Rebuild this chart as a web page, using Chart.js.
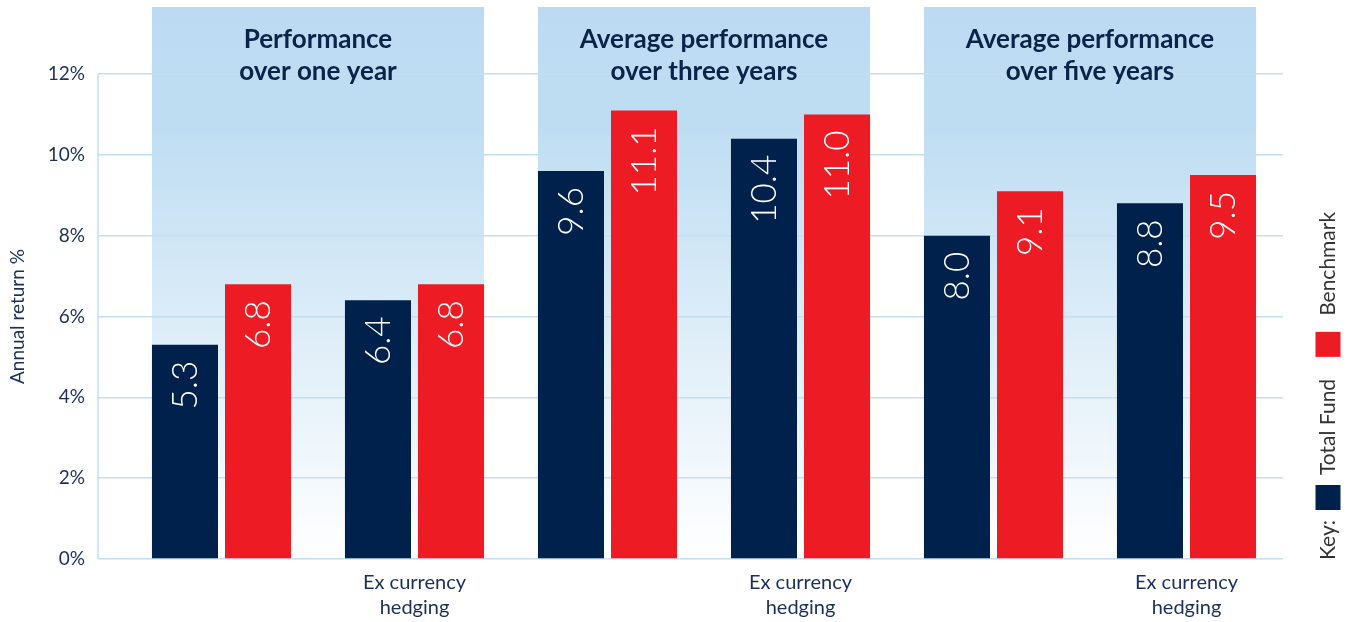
<!DOCTYPE html>
<html>
<head>
<meta charset="utf-8">
<script src="https://cdn.jsdelivr.net/npm/chart.js@4"></script>
<style>
  body { margin: 0; background: #fff; }
  #wrap { width: 1348px; height: 622px; }
</style>
</head>
<body>
<div id="wrap"><canvas id="perfChart" width="1348" height="622"></canvas></div>
<script>
const categories = ['', ['Ex currency', 'hedging'], '', ['Ex currency', 'hedging'], '', ['Ex currency', 'hedging']];
const groupTitles = [
  ['Performance', 'over one year'],
  ['Average performance', 'over three years'],
  ['Average performance', 'over five years']
];
const totalFund = [5.3, 6.4, 9.6, 10.4, 8.0, 8.8];
const benchmark = [6.8, 6.8, 11.1, 11.0, 9.1, 9.5];
const yTicks = [0, 2, 4, 6, 8, 10, 12];

const NAVY = '#00214b';
const RED = '#ed1c24';
const TEXT = '#1b2f58';
const GRID = '#c4def2';
const FONT = 'Lato, "Open Sans", sans-serif';

// light blue panels behind each pair of pairs, drawn before the grid
const panelPlugin = {
  id: 'panels',
  beforeDraw: function(chart) {
    const ctx = chart.ctx;
    const m0 = chart.getDatasetMeta(0).data;
    const m1 = chart.getDatasetMeta(1).data;
    const bottom = chart.chartArea.bottom;
    const top = 7;
    ctx.save();
    for (let g = 0; g < groupTitles.length; g++) {
      const a = m0[g * 2];
      const b = m1[g * 2 + 1];
      const left = a.x - a.width / 2;
      const right = b.x + b.width / 2;
      const grad = ctx.createLinearGradient(0, top, 0, bottom);
      grad.addColorStop(0, '#bcdbf2');
      grad.addColorStop(0.22, '#bfddf2');
      grad.addColorStop(1, '#ffffff');
      ctx.fillStyle = grad;
      ctx.fillRect(left, top, right - left, bottom - top);
    }
    // left axis line
    ctx.strokeStyle = GRID;
    ctx.lineWidth = 1.5;
    ctx.beginPath();
    ctx.moveTo(98, chart.chartArea.top);
    ctx.lineTo(98, bottom);
    ctx.stroke();
    ctx.restore();
  },
  afterDatasetsDraw: function(chart) {
    const ctx = chart.ctx;
    const m0 = chart.getDatasetMeta(0).data;
    const m1 = chart.getDatasetMeta(1).data;
    ctx.save();
    // group headers
    ctx.fillStyle = '#0a2349';
    ctx.font = 'bold 26px ' + FONT;
    ctx.textAlign = 'center';
    ctx.textBaseline = 'alphabetic';
    for (let g = 0; g < groupTitles.length; g++) {
      const a = m0[g * 2];
      const b = m1[g * 2 + 1];
      const cx = ((a.x - a.width / 2) + (b.x + b.width / 2)) / 2;
      ctx.fillText(groupTitles[g][0], cx, 48);
      ctx.fillText(groupTitles[g][1], cx, 80);
    }
    // value labels, rotated inside each bar
    ctx.fillStyle = '#ffffff';
    ctx.font = '300 35px ' + FONT;
    ctx.textAlign = 'right';
    ctx.textBaseline = 'middle';
    chart.data.datasets.forEach(function(ds, i) {
      chart.getDatasetMeta(i).data.forEach(function(bar, j) {
        ctx.save();
        ctx.translate(bar.x, bar.y + 16);
        ctx.rotate(-Math.PI / 2);
        ctx.fillText(ds.data[j].toFixed(1), 0, 1);
        ctx.restore();
      });
    });
    ctx.restore();
  },
  afterDraw: function(chart) {
    // vertical key on the right
    const ctx = chart.ctx;
    ctx.save();
    ctx.translate(1328, 0);
    ctx.rotate(-Math.PI / 2);
    ctx.font = '21px ' + FONT;
    ctx.textAlign = 'left';
    ctx.textBaseline = 'middle';
    ctx.fillStyle = '#333333';
    let pos = 560;
    ctx.fillText('Key:', -pos, 0);
    pos -= ctx.measureText('Key:').width + 10;
    chart.data.datasets.forEach(function(ds, i) {
      ctx.fillStyle = ds.backgroundColor;
      ctx.fillRect(-pos, -12.5, 25, 25);
      pos -= 25 + (i === 0 ? 10 : 16);
      ctx.fillStyle = '#333333';
      ctx.fillText(ds.label, -pos, 0);
      pos -= ctx.measureText(ds.label).width + 22;
    });
    ctx.restore();
  }
};

const ctx = document.getElementById('perfChart').getContext('2d');
new Chart(ctx, {
  type: 'bar',
  data: {
    labels: categories,
    datasets: [
      {
        label: 'Total Fund',
        data: totalFund,
        backgroundColor: NAVY,
        barPercentage: 0.904,
        categoryPercentage: 0.757
      },
      {
        label: 'Benchmark',
        data: benchmark,
        backgroundColor: RED,
        barPercentage: 0.904,
        categoryPercentage: 0.757
      }
    ]
  },
  options: {
    responsive: false,
    animation: false,
    layout: { padding: { left: 0, top: 74, right: 65, bottom: 0 } },
    plugins: {
      legend: { display: false },
      tooltip: { enabled: false }
    },
    scales: {
      x: {
        grid: { display: false },
        border: { display: false },
        ticks: {
          color: TEXT,
          font: { family: FONT, size: 20, lineHeight: 1.25 },
          padding: 3,
          maxRotation: 0,
          autoSkip: false
        },
        afterFit: function(scale) { scale.height = 63; }
      },
      y: {
        min: 0,
        max: 12,
        afterBuildTicks: function(scale) {
          scale.ticks = yTicks.map(function(v) { return { value: v }; });
        },
        ticks: {
          color: TEXT,
          font: { family: FONT, size: 19 },
          padding: 13,
          callback: function(value) { return value + '%'; }
        },
        grid: { color: GRID, lineWidth: 1.5, tickLength: 27, tickColor: GRID },
        border: { display: false },
        title: {
          display: true,
          text: 'Annual return %',
          color: TEXT,
          font: { family: FONT, size: 19 },
          padding: { top: 6, bottom: 0 }
        },
        afterFit: function(scale) { scale.width = 125; }
      }
    }
  },
  plugins: [panelPlugin]
});
</script>
</body>
</html>
